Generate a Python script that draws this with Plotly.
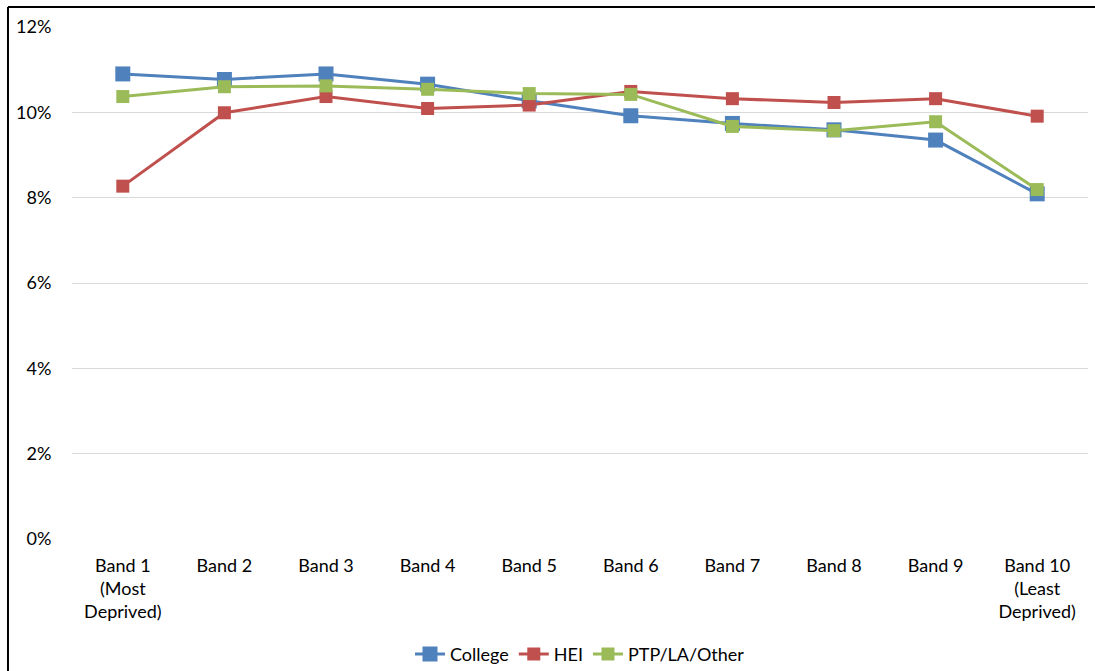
import plotly.graph_objects as go

categories = ["Band 1<br>(Most<br>Deprived)", "Band 2", "Band 3", "Band 4", "Band 5",
              "Band 6", "Band 7", "Band 8", "Band 9", "Band 10<br>(Least<br>Deprived)"]
college = [10.90, 10.77, 10.90, 10.66, 10.27, 9.92, 9.74, 9.59, 9.35, 8.09]
hei = [8.27, 9.99, 10.37, 10.09, 10.17, 10.49, 10.32, 10.23, 10.32, 9.91]
ptp = [10.37, 10.60, 10.62, 10.54, 10.44, 10.42, 9.67, 9.57, 9.78, 8.19]
yticks = [0, 2, 4, 6, 8, 10, 12]
ytick_labels = ["0%", "2%", "4%", "6%", "8%", "10%", "12%"]

FONT = "Lato"
FS = 18
fig = go.Figure()
series = [
    ("College", college, "#4F81BD", 15),
    ("HEI", hei, "#C0504D", 13),
    ("PTP/LA/Other", ptp, "#9BBB59", 13),
]
for name, vals, color, msize in series:
    fig.add_trace(go.Scatter(
        x=categories, y=vals, name=name, mode="lines+markers",
        line=dict(color=color, width=3),
        marker=dict(symbol="square", size=msize, color=color),
    ))

fig.update_layout(
    width=1095, height=671,
    margin=dict(l=72, r=7, t=27, b=132, autoexpand=False),
    paper_bgcolor="white", plot_bgcolor="white",
    font=dict(family=FONT, size=FS, color="#000000"),
    showlegend=True,
    legend=dict(orientation="h", x=0.5, xanchor="center", y=-0.225, yanchor="middle",
                font=dict(family=FONT, size=FS, color="#000000"),
                itemwidth=30, tracegroupgap=0),
    xaxis=dict(showgrid=False, showline=False, zeroline=False, automargin=False,
               range=[-0.5, len(categories) - 0.5],
               ticks="outside", ticklen=10, tickcolor="rgba(0,0,0,0)",
               tickfont=dict(family=FONT, size=FS, color="#000000"), fixedrange=True),
    yaxis=dict(range=[0, 12], tickvals=yticks, ticktext=ytick_labels, automargin=False,
               showgrid=True, gridcolor="#D9D9D9", gridwidth=1, zeroline=False,
               showline=False, ticks="outside", ticklen=16, tickcolor="rgba(0,0,0,0)",
               tickfont=dict(family=FONT, size=FS, color="#000000")),
    shapes=[
        dict(type="line", xref="paper", yref="paper", x0=-0.063, x1=-0.063, y0=-0.3, y1=1.039,
             line=dict(color="black", width=2)),
        dict(type="line", xref="paper", yref="paper", x0=-0.063, x1=1.02, y0=1.039, y1=1.039,
             line=dict(color="black", width=2)),
    ],
)

fig.write_html("out.html", config={"displayModeBar": False},
               post_script="document.body.style.margin='0';document.body.style.overflow='hidden';")
